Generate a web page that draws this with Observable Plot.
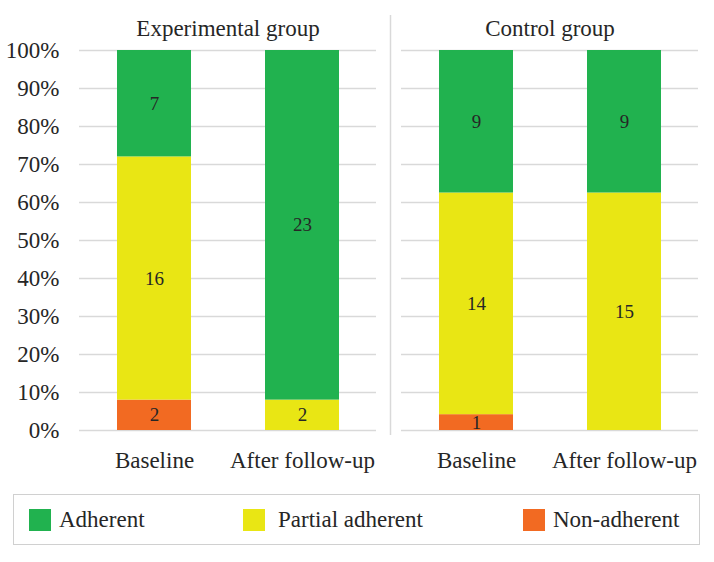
<!DOCTYPE html>
<html>
<head>
<meta charset="utf-8">
<script src="https://cdn.jsdelivr.net/npm/d3@7"></script>
<script src="https://cdn.jsdelivr.net/npm/@observablehq/plot@0.6"></script>
<style>
  body { margin: 0; background: #fff; font-family: "Liberation Serif", serif; }
  #wrap { position: relative; width: 714px; height: 562px; }
  #legend { position: absolute; left: 13px; top: 494px; width: 687px; height: 51px; border: 1px solid #d0d0d0; box-sizing: border-box; }
  .sw { position: absolute; top: 14px; width: 22px; height: 22px; }
  .lt { position: absolute; top: 13px; font-size: 23px; line-height: 24px; color: #262626; white-space: nowrap; font-family: "Liberation Serif", serif; }
</style>
</head>
<body>
<div id="wrap">
  <div id="chart"></div>
  <div id="legend"></div>
</div>
<script>
const groups = ["Experimental group", "Control group"];
const times = ["Baseline", "After follow-up"];
const levels = ["Non-adherent", "Partial adherent", "Adherent"];
const levelColors = ["#F26A22", "#E9E614", "#21B24F"];
// values per [group][time]
const nonAdherent = [[2, 0], [1, 0]];
const partialAdherent = [[16, 2], [14, 15]];
const adherent = [[7, 23], [9, 9]];
const yTicks = [0, 0.1, 0.2, 0.3, 0.4, 0.5, 0.6, 0.7, 0.8, 0.9, 1];

const series = [nonAdherent, partialAdherent, adherent];
const rows = [];
groups.forEach((g, gi) => times.forEach((t, ti) => levels.forEach((l, li) => {
  const c = series[li][gi][ti];
  if (c > 0) rows.push({group: g, time: t, level: l, count: c});
})));

const plot = Plot.plot({
  width: 714,
  height: 480,
  marginTop: 50,
  marginBottom: 50,
  marginLeft: 79,
  marginRight: 16,
  style: {fontSize: "23px", color: "#262626", background: "#fff"},
  fx: {domain: groups, paddingInner: 0.078, paddingOuter: 0, label: null, tickSize: 0, tickPadding: 15},
  x: {domain: times, paddingInner: 0.5, paddingOuter: 0.25, label: null, tickSize: 0, tickPadding: 21},
  y: {domain: [0, 1], ticks: yTicks, tickFormat: ".0%", tickSize: 0, tickPadding: 20, label: null},
  color: {domain: levels, range: levelColors},
  marks: [
    Plot.ruleY(yTicks, {stroke: "#d9d9d9", strokeWidth: 1.5}),
    Plot.barY(rows, Plot.stackY({offset: "normalize", order: levels, x: "time", y: "count", fill: "level", z: "level", fx: "group"})),
    Plot.text(rows, Plot.stackY({offset: "normalize", order: levels, x: "time", y: "count", z: "level", text: "count", fx: "group", fontSize: 19, fill: "#262626"}))
  ]
});
document.getElementById("chart").appendChild(plot);
d3.select(plot).attr("font-family", "Liberation Serif").style("font-family", "'Liberation Serif', serif");
d3.select(plot).selectAll("g").attr("font-family", null);
d3.select(plot).selectAll("text").attr("font-family", "Liberation Serif");

// divider between facets
const fx = plot.scale("fx");
const ys = plot.scale("y");
const xDiv = (fx.apply(groups[0]) + fx.bandwidth + fx.apply(groups[1])) / 2 + 2;
d3.select(plot).append("line")
  .attr("x1", xDiv).attr("x2", xDiv)
  .attr("y1", ys.apply(1) - 35).attr("y2", ys.apply(0) + 5)
  .attr("stroke", "#d9d9d9").attr("stroke-width", 1.5);

// legend
const legendOrder = [2, 1, 0];
const swatchLeft = [15, 229, 509];
const textLeft = [45, 264, 539];
const legend = document.getElementById("legend");
legendOrder.forEach((li, k) => {
  const sw = document.createElement("div");
  sw.className = "sw";
  sw.style.left = swatchLeft[k] + "px";
  sw.style.background = levelColors[li];
  legend.appendChild(sw);
  const t = document.createElement("div");
  t.className = "lt";
  t.style.left = textLeft[k] + "px";
  t.textContent = levels[li];
  legend.appendChild(t);
});
</script>
</body>
</html>
